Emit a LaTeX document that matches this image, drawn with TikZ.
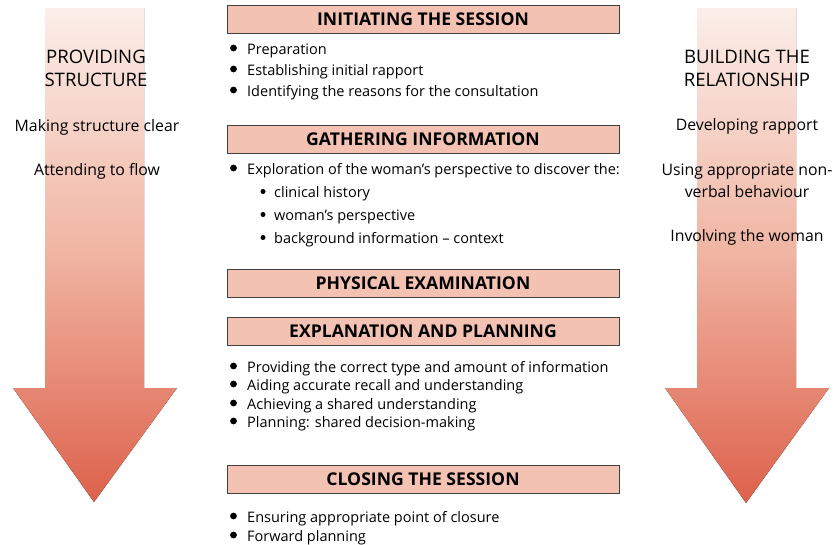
\documentclass[tikz,border=0pt]{standalone}
\usepackage{fontspec}
\setmainfont{Open Sans}
\definecolor{boxfill}{HTML}{F4C2B3}
\definecolor{arrtop}{HTML}{FBEEE9}
\definecolor{arrmid}{HTML}{F0B4A2}
\definecolor{arrbot}{HTML}{DD614B}
\begin{document}
\begin{tikzpicture}[x=1pt,y=-1pt,
  stage/.style={draw=black!75, line width=0.8pt, fill=boxfill,
    minimum width=392pt, minimum height=28pt, inner sep=0pt,
    font=\fontsize{17.6}{17.6}\selectfont\bfseries},
  item/.style={anchor=base west, inner sep=0pt,
    font=\fontsize{14.5}{14.5}\selectfont},
  sidehead/.style={anchor=base, inner sep=0pt, align=center,
    font=\fontsize{18.6}{23}\selectfont},
  sidetext/.style={anchor=base, inner sep=0pt, align=center,
    font=\fontsize{15.8}{22}\selectfont},
  flow/.style={top color=arrtop, bottom color=arrbot, middle color=arrmid}
]
\useasboundingbox (0,0) rectangle (836,544);

% the two broad downward arrows
\fill[flow] (45,8) -- (144,8) -- (144,388) -- (177,388) -- (94,502)
  -- (13,388) -- (45,388) -- cycle;
\fill[flow] (697,8) -- (796,8) -- (796,388) -- (829,388) -- (746,503)
  -- (665,388) -- (697,388) -- cycle;

% left column (base anchor sits on the last line)
\node[sidehead] (lh) at (96,86) {PROVIDING\\STRUCTURE};
\node[sidetext] (l1) at (97,131) {Making structure clear};
\node[sidetext] (l2) at (97,175) {Attending to flow};

% right column
\node[sidehead] (rh) at (747,86) {BUILDING THE\\RELATIONSHIP};
\node[sidetext] (r1) at (747,130) {Developing rapport};
\node[sidetext] (r2) at (747,197) {Using appropriate non-\\verbal behaviour};
\node[sidetext] (r3) at (747,241) {Involving the woman};

% stages
\node[stage] (s1) at (423,19) {INITIATING THE SESSION};
\node[stage] (s2) at (423,139) {GATHERING INFORMATION};
\node[stage] (s3) at (423,283) {PHYSICAL EXAMINATION};
\node[stage] (s4) at (423,331) {EXPLANATION AND PLANNING};
\node[stage] (s5) at (423,479) {CLOSING THE SESSION};

% bullet lists
\node[item] (a1) at (247,54) {Preparation};
\node[item] (a2) at (247,75) {Establishing initial rapport};
\node[item] (a3) at (247,96) {Identifying the reasons for the consultation};

\node[item] (b1) at (247,174) {Exploration of the woman’s perspective to discover the:};
\node[item] (b2) at (274,197) {clinical history};
\node[item] (b3) at (274,220) {woman’s perspective};
\node[item] (b4) at (274,243) {background information – context};

\node[item] (d1) at (247,372) {Providing the correct type and amount of information};
\node[item] (d2) at (247,390) {Aiding accurate recall and understanding};
\node[item] (d3) at (247,409) {Achieving a shared understanding};
\node[item] (d4) at (247,427) {Planning: shared decision-making};

\node[item] (e1) at (247,522) {Ensuring appropriate point of closure};
\node[item] (e2) at (247,541) {Forward planning};

\foreach \n in {a1,a2,a3,b1,d1,d2,d3,d4,e1,e2}
  \fill (\n.base west) ++(-13.5,-6) circle (3.4);
\foreach \n in {b2,b3,b4}
  \fill (\n.base west) ++(-11,-5.5) circle (2.5);
\end{tikzpicture}
\end{document}
